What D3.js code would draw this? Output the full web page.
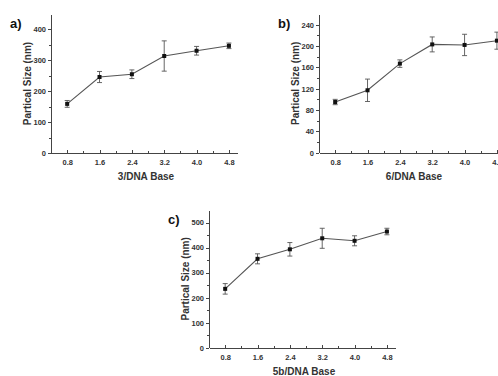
<!DOCTYPE html>
<html>
<head>
<meta charset="utf-8">
<style>
body { margin: 0; background: #fff; }
svg text { font-family: "Liberation Sans", Arial, sans-serif; font-weight: bold; }
.axis path, .axis line { stroke: #444; stroke-width: 1; shape-rendering: crispEdges; }
.axis text { font-size: 7.5px; fill: #333; }
.minor line { stroke: #444; }
</style>
</head>
<body>
<script src="https://d3js.org/d3.v7.min.js"></script>
<script>

// ratios on the x axis
var ratios = [0.8, 1.6, 2.4, 3.2, 4.0, 4.8];
var xTicks = [0.8, 1.6, 2.4, 3.2, 4.0, 4.8];

// panel a) 3/DNA
var sizeA = [159, 246, 255, 314, 331, 347];
var errA  = [11, 18, 14, 49, 14, 9];
var yTicksA = [0, 100, 200, 300, 400];

// panel b) 6/DNA
var sizeB = [95, 117, 167, 203, 202, 210];
var errB  = [5, 21, 7, 14, 20, 16];
var yTicksB = [0, 40, 80, 120, 160, 200, 240];

// panel c) 5b/DNA
var sizeC = [235, 355, 393, 437, 427, 464];
var errC  = [21, 20, 27, 40, 20, 13];
var yTicksC = [0, 100, 200, 300, 400, 500];

var svg = d3.select("body").append("svg")
    .attr("width", 498)
    .attr("height", 376);

// draws one panel, box = axis corner positions in pixels
function panel(box, letter, xLabel, sizes, errs, yMax, yTicks, yMinorStep) {
    var x = d3.scaleLinear().domain([0.4, 5.0]).range([box.left, box.right]);
    var y = d3.scaleLinear().domain([0, yMax]).range([box.bottom, box.top]);

    var g = svg.append("g");

    // minor ticks
    var xMinor = [1.2, 2.0, 2.8, 3.6, 4.4];
    g.append("g").attr("class", "axis minor")
        .attr("transform", "translate(0," + box.bottom + ")")
        .call(d3.axisBottom(x).tickValues(xMinor).tickSize(-2).tickFormat(""))
        .select(".domain").remove();
    var yMinor = d3.range(yMinorStep, yMax, yMinorStep * 2);
    g.append("g").attr("class", "axis minor")
        .attr("transform", "translate(" + box.left + ",0)")
        .call(d3.axisLeft(y).tickValues(yMinor).tickSize(2).tickFormat(""))
        .select(".domain").remove();

    // main axes
    g.append("g").attr("class", "axis")
        .attr("transform", "translate(0," + box.bottom + ")")
        .call(d3.axisBottom(x).tickValues(xTicks).tickSizeInner(-3).tickSizeOuter(0)
            .tickPadding(7).tickFormat(d3.format(".1f")));
    g.append("g").attr("class", "axis")
        .attr("transform", "translate(" + box.left + ",0)")
        .call(d3.axisLeft(y).tickValues(yTicks).tickSizeInner(3).tickSizeOuter(0)
            .tickPadding(2));

    // axis titles
    g.append("text")
        .attr("x", (box.left + box.labelRight) / 2 + 2)
        .attr("y", box.bottom + 27)
        .attr("text-anchor", "middle")
        .style("font-size", "10px")
        .attr("fill", "#333")
        .text(xLabel);
    g.append("text")
        .attr("transform", "translate(" + (box.left - 20) + "," + ((box.top + box.bottom) / 2) + ") rotate(-90)")
        .attr("text-anchor", "middle")
        .style("font-size", "10px")
        .attr("fill", "#333")
        .text("Partical Size (nm)");
    g.append("text")
        .attr("x", box.left - 41)
        .attr("y", box.top + 14)
        .style("font-size", "13px")
        .attr("fill", "#111")
        .text(letter + ")");

    var pts = ratios.map(function(r, i) { return {r: r, v: sizes[i], e: errs[i]}; });

    // connecting line
    g.append("path")
        .datum(pts)
        .attr("fill", "none")
        .attr("stroke", "#555")
        .attr("stroke-width", 1.1)
        .attr("d", d3.line().x(function(d) { return x(d.r); }).y(function(d) { return y(d.v); }));

    // error bars
    var eb = g.selectAll(".err").data(pts).enter().append("g").attr("class", "err")
        .attr("stroke", "#555").attr("stroke-width", 0.9);
    eb.append("line")
        .attr("x1", function(d) { return x(d.r); }).attr("x2", function(d) { return x(d.r); })
        .attr("y1", function(d) { return y(d.v - d.e); }).attr("y2", function(d) { return y(d.v + d.e); });
    eb.append("line")
        .attr("x1", function(d) { return x(d.r) - 2.5; }).attr("x2", function(d) { return x(d.r) + 2.5; })
        .attr("y1", function(d) { return y(d.v + d.e); }).attr("y2", function(d) { return y(d.v + d.e); });
    eb.append("line")
        .attr("x1", function(d) { return x(d.r) - 2.5; }).attr("x2", function(d) { return x(d.r) + 2.5; })
        .attr("y1", function(d) { return y(d.v - d.e); }).attr("y2", function(d) { return y(d.v - d.e); });

    // square markers
    g.selectAll(".pt").data(pts).enter().append("rect")
        .attr("x", function(d) { return x(d.r) - 2; })
        .attr("y", function(d) { return y(d.v) - 2; })
        .attr("width", 4).attr("height", 4)
        .attr("fill", "#111");
}

panel({left: 51, right: 237, top: 14, bottom: 153, labelRight: 237}, "a", "3/DNA Base", sizeA, errA, 450, yTicksA, 50);
panel({left: 319, right: 505, top: 14, bottom: 152.7, labelRight: 505}, "b", "6/DNA Base", sizeB, errB, 260, yTicksB, 20);
panel({left: 209, right: 395, top: 210, bottom: 347.7, labelRight: 395}, "c", "5b/DNA Base", sizeC, errC, 550, yTicksC, 50);

</script>
</body>
</html>
